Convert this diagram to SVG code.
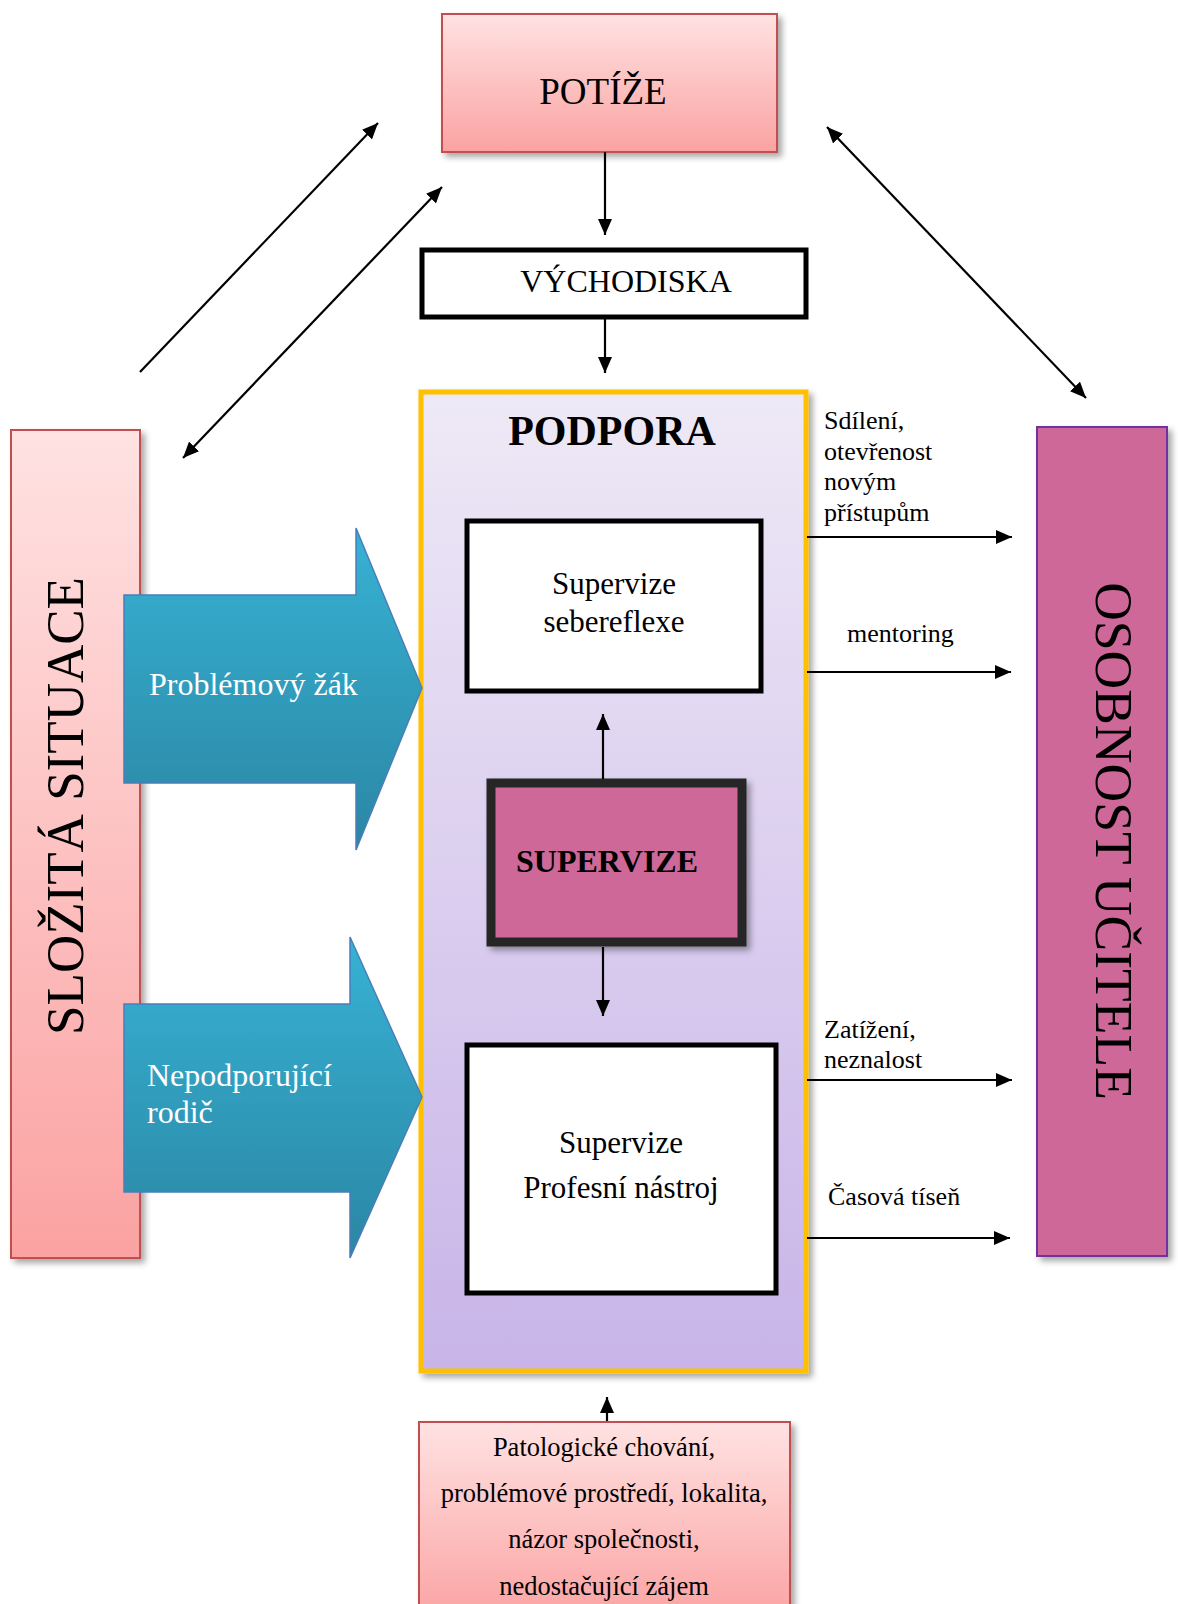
<svg xmlns="http://www.w3.org/2000/svg" width="1178" height="1604" viewBox="0 0 1178 1604">
<style>
text{font-family:"Liberation Serif","Times New Roman",serif;fill:#000}
.pink{fill:url(#gPink);stroke:#C0504D;stroke-width:2}
.box{fill:#fff;stroke:#000;stroke-width:5}
.blue{fill:url(#gBlue);stroke:#4A7EBB;stroke-width:1.5}
.con line{stroke:#000;stroke-width:2.2;fill:none}
.w{fill:#fff}
</style>
<defs>
<linearGradient id="gPink" x1="0" y1="0" x2="0" y2="1"><stop offset="0" stop-color="#FFE2E2"/><stop offset="1" stop-color="#FBA2A2"/></linearGradient>
<linearGradient id="gLav" x1="0" y1="0" x2="0" y2="1"><stop offset="0" stop-color="#EEE9F6"/><stop offset="1" stop-color="#C8B4E8"/></linearGradient>
<linearGradient id="gBlue" x1="0" y1="0" x2="0" y2="1"><stop offset="0" stop-color="#37B2D4"/><stop offset="1" stop-color="#2B86A4"/></linearGradient>
<filter id="sh" x="-10%" y="-10%" width="130%" height="130%"><feDropShadow dx="4" dy="4" stdDeviation="3" flood-color="#000" flood-opacity="0.35"/></filter>
<marker id="ah" markerUnits="userSpaceOnUse" markerWidth="16" markerHeight="14" refX="16" refY="7" orient="auto-start-reverse"><path d="M0,0 L16,7 L0,14 Z" fill="#000"/></marker>
</defs>

<g id="potize"><rect class="pink" x="442" y="14" width="335" height="138" filter="url(#sh)"/><text x="603" y="104" font-size="37" text-anchor="middle">POTÍŽE</text></g>

<g id="vychodiska"><rect class="box" x="422" y="250" width="384" height="67"/><text x="626" y="292" font-size="32" text-anchor="middle">VÝCHODISKA</text></g>

<g id="podpora"><rect x="421" y="392" width="385" height="979" fill="url(#gLav)" stroke="#FFC000" stroke-width="5" filter="url(#sh)"/><text x="612" y="445" font-size="42" font-weight="bold" text-anchor="middle">PODPORA</text></g>

<g id="sebereflexe"><rect class="box" x="467" y="521" width="294" height="170"/><text x="614" y="594" font-size="31" text-anchor="middle">Supervize</text><text x="614" y="632" font-size="31" text-anchor="middle">sebereflexe</text></g>

<g id="supervize"><rect x="491" y="783" width="251" height="159" fill="#CD6799" stroke="#262626" stroke-width="9" filter="url(#sh)"/><text x="607" y="872" font-size="32" font-weight="bold" text-anchor="middle">SUPERVIZE</text></g>

<g id="profesni"><rect class="box" x="467" y="1045" width="309" height="248"/><text x="621" y="1153" font-size="31" text-anchor="middle">Supervize</text><text x="621" y="1198" font-size="31" text-anchor="middle">Profesní nástroj</text></g>

<g id="slozita"><rect class="pink" x="11" y="430" width="129" height="828" filter="url(#sh)"/><text transform="translate(83,806) rotate(-90)" font-size="53" text-anchor="middle">SLOŽITÁ SITUACE</text></g>

<g id="osobnost"><rect x="1037" y="427" width="130" height="829" fill="#CD6799" stroke="#7030A0" stroke-width="2" filter="url(#sh)"/><text transform="translate(1096,841) rotate(90)" font-size="53.5" text-anchor="middle">OSOBNOST UČITELE</text></g>

<g id="problemovy"><path class="blue" d="M124,595 L356,595 L356,528 L422,688 L356,850 L356,783 L124,783 Z"/><text class="w" x="149" y="695" font-size="32">Problémový žák</text></g>

<g id="nepodporujici"><path class="blue" d="M124,1004 L350,1004 L350,937 L422,1097 L350,1258 L350,1192 L124,1192 Z"/><text class="w" x="147" y="1086" font-size="32">Nepodporující</text><text class="w" x="147" y="1123" font-size="32">rodič</text></g>

<g id="patologicke"><rect class="pink" x="419" y="1422" width="371" height="200" filter="url(#sh)"/>
<text x="604" y="1456" font-size="26.5" text-anchor="middle">Patologické chování,</text>
<text x="604" y="1502" font-size="26.5" text-anchor="middle">problémové prostředí, lokalita,</text>
<text x="604" y="1548" font-size="26.5" text-anchor="middle">názor společnosti,</text>
<text x="604" y="1595" font-size="26.5" text-anchor="middle">nedostačující zájem</text></g>

<g id="connectors" class="con">
<line x1="605" y1="152" x2="605" y2="235" marker-end="url(#ah)"/>
<line x1="605" y1="319" x2="605" y2="373" marker-end="url(#ah)"/>
<line x1="603" y1="779" x2="603" y2="714" marker-end="url(#ah)"/>
<line x1="603" y1="947" x2="603" y2="1016" marker-end="url(#ah)"/>
<line x1="607" y1="1421" x2="607" y2="1397" marker-end="url(#ah)"/>
<line x1="807" y1="537" x2="1012" y2="537" marker-end="url(#ah)"/>
<line x1="807" y1="672" x2="1011" y2="672" marker-end="url(#ah)"/>
<line x1="807" y1="1080" x2="1012" y2="1080" marker-end="url(#ah)"/>
<line x1="807" y1="1238" x2="1010" y2="1238" marker-end="url(#ah)"/>
<line x1="140" y1="372" x2="378" y2="123" marker-end="url(#ah)"/>
<line x1="183" y1="458" x2="442" y2="187" marker-start="url(#ah)" marker-end="url(#ah)"/>
<line x1="827" y1="127" x2="1086" y2="398" marker-start="url(#ah)" marker-end="url(#ah)"/>
</g>

<g id="labels">
<text x="824" y="429" font-size="26">Sdílení,</text>
<text x="824" y="460" font-size="26">otevřenost</text>
<text x="824" y="490" font-size="26">novým</text>
<text x="824" y="521" font-size="26">přístupům</text>
<text x="847" y="642" font-size="26">mentoring</text>
<text x="824" y="1038" font-size="26">Zatížení,</text>
<text x="824" y="1068" font-size="26">neznalost</text>
<text x="828" y="1205" font-size="26">Časová tíseň</text>
</g>
</svg>
